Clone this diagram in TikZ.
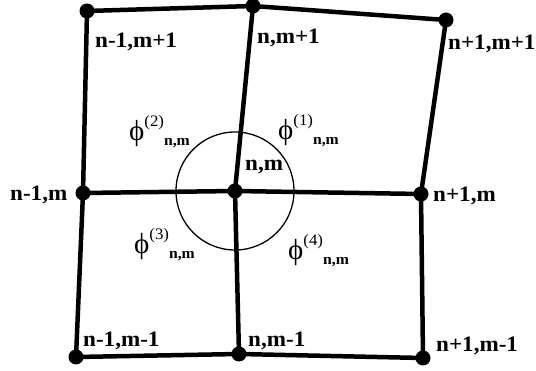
\documentclass[tikz,border=0pt]{standalone}
\usepackage{fontspec}
\setmainfont{Liberation Serif}
\newfontfamily\widefont[FakeStretch=1.05]{Liberation Serif}
\begin{document}
\begin{tikzpicture}[x=1pt,y=-1pt,
  grid/.style={line width=4.5pt, line cap=round, line join=round},
  dot/.style={circle, fill=black, inner sep=0pt, minimum size=15pt},
  lbl/.style={anchor=base west, inner sep=0pt, font=\widefont\fontsize{22}{23}\selectfont\bfseries},
  philbl/.style={anchor=base west, inner sep=0pt}]
\useasboundingbox (0,0) rectangle (536,371);
\newcommand{\philabel}[1]{{\fontsize{29}{29}\selectfont ϕ}\raisebox{14pt}{\widefont\fontsize{16}{17}\selectfont(#1)}\raisebox{-5pt}{\widefont\fontsize{15}{16}\selectfont\bfseries n,m}}
% points
\coordinate (A) at (87,11);
\coordinate (B) at (253,6);
\coordinate (C) at (446,20);
\coordinate (D) at (83,193);
\coordinate (E) at (235,191);
\coordinate (F) at (421,194);
\coordinate (G) at (76,357);
\coordinate (H) at (239,354);
\coordinate (I) at (423,358);
% circle
\draw[line width=1.3pt] (E) circle (59);
% grid lines
\draw[grid] (A) -- (B) -- (C);
\draw[grid] (D) -- (E) -- (F);
\draw[grid] (G) -- (H) -- (I);
\draw[grid] (A) -- (D) -- (G);
\draw[grid] (B) -- (E) -- (H);
\draw[grid] (C) -- (F) -- (I);
% dots
\foreach \p in {A,B,C,D,E,F,G,H,I} \node[dot] at (\p) {};
% labels
\node[lbl] (lA) at (95,48) {n-1,m+1};
\node[lbl] (lB) at (257,44) {n,m+1};
\node[lbl] (lC) at (448,50) {n+1,m+1};
\node[lbl] (lD) at (10,201) {n-1,m};
\node[lbl] (lE) at (245,171) {n,m};
\node[lbl] (lF) at (433,202) {n+1,m};
\node[lbl] (lG) at (83,347) {n-1,m-1};
\node[lbl] (lH) at (248,347) {n,m-1};
\node[lbl] (lI) at (436,352) {n+1,m-1};
% phi labels
\node[philbl] (p2) at (129,141) {\philabel{2}};
\node[philbl] (p1) at (278,140) {\philabel{1}};
\node[philbl] (p3) at (134,254) {\philabel{3}};
\node[philbl] (p4) at (288,260) {\philabel{4}};
\end{tikzpicture}
\end{document}
